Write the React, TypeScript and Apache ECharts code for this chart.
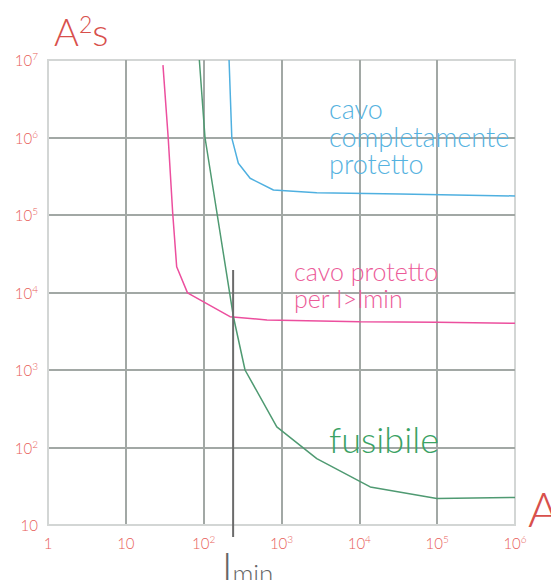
import React, { useEffect, useRef } from "react";
import * as echarts from "echarts";

// Data (x: current A, y: I²t A²s)
const pinkCurve: [number, number][] = [
  [30, 8.6e6], [35, 1.0e6], [40, 1.06e5], [45, 21500], [62, 9900],
  [218, 4870], [650, 4420], [10200, 4200], [100000, 4130], [1000000, 4000],
];
const blueCurve: [number, number][] = [
  [212, 1.0e7], [230, 9.8e5], [279, 4.65e5], [395, 2.98e5], [787, 2.1e5],
  [2840, 1.94e5], [33400, 1.87e5], [1000000, 1.76e5],
];
const greenCurve: [number, number][] = [
  [88, 1.0e7], [104, 1.0e6], [241, 4870], [340, 1000], [870, 185],
  [2840, 72], [13800, 31], [99000, 22], [1000000, 22.7],
];
const iminLine: [number, number][] = [[239, 19500], [239, 7]];

const labelRed = "#e8605a";

function supLabel(v: number): string {
  const e = Math.round(Math.log10(v));
  if (e === 0) return "1";
  if (e === 1) return "10";
  return "10{sup|" + e + "}";
}

export default function App() {
  const ref = useRef<HTMLDivElement>(null);
  useEffect(() => {
    if (!ref.current) return;
    const chart = echarts.init(ref.current, undefined, { renderer: "svg" });
    const rich = {
      sup: { fontSize: 10, verticalAlign: "top", lineHeight: 10, color: labelRed, fontFamily: "Lato", fontWeight: 300 },
    };
    chart.setOption({
      animation: false,
      textStyle: { fontFamily: "Lato" },
      grid: {
        left: 48, top: 60, right: 36, bottom: 55,
        show: true, borderColor: "#d3d6d5", borderWidth: 2,
      },
      xAxis: {
        type: "log", logBase: 10, min: 1, max: 1000000,
        axisLine: { show: true, lineStyle: { color: "#d3d6d5", width: 2 } },
        axisTick: { show: false },
        axisLabel: {
          margin: 9, color: labelRed, fontSize: 15, fontFamily: "Lato", fontWeight: 300,
          lineHeight: 18,
          formatter: (v: number) => supLabel(v),
          rich,
        },
        splitLine: { show: true, showMinLine: false, showMaxLine: false, lineStyle: { color: "#a2a8a5", width: 2 } },
      },
      yAxis: {
        type: "log", logBase: 10, min: 10, max: 10000000,
        axisLine: { show: true, lineStyle: { color: "#d3d6d5", width: 2 } },
        axisTick: { show: false },
        axisLabel: {
          margin: 10, color: labelRed, fontSize: 15, fontFamily: "Lato", fontWeight: 300,
          lineHeight: 18,
          formatter: (v: number) => supLabel(v),
          rich,
        },
        splitLine: { show: true, showMinLine: false, showMaxLine: false, lineStyle: { color: "#a2a8a5", width: 2 } },
      },
      series: [
        {
          type: "line", data: pinkCurve, symbol: "none",
          lineStyle: { color: "#ec4f9e", width: 1.5 }, z: 3,
        },
        {
          type: "line", data: blueCurve, symbol: "none",
          lineStyle: { color: "#4fb0e0", width: 1.5 }, z: 3,
        },
        {
          type: "line", data: greenCurve, symbol: "none",
          lineStyle: { color: "#4f9a72", width: 1.5 }, z: 3,
        },
        {
          type: "line", data: iminLine, symbol: "none", clip: false,
          lineStyle: { color: "#6b6b6b", width: 2 }, z: 4,
        },
      ],
      graphic: [
        {
          type: "text", left: 54, top: 12, z: 100,
          style: {
            text: "A{s2|2}s", fill: "#d8504c", font: "300 38px Lato",
            rich: { s2: { fontSize: 23, verticalAlign: "top", lineHeight: 20, fill: "#d8504c", fontFamily: "Lato", fontWeight: 300 } },
          },
        },
        {
          type: "text", left: 528, top: 484, z: 100,
          style: { text: "A", fill: "#d8504c", font: "300 48px Lato" },
        },
        {
          type: "text", left: 329, top: 95, z: 100,
          style: {
            text: "cavo\ncompletamente\nprotetto", fill: "#55b2e0",
            font: "300 27px Lato", lineHeight: 27.5,
          },
        },
        {
          type: "text", left: 294, top: 257, z: 100,
          style: {
            text: "cavo protetto\nper I>Imin", fill: "#ec5a98",
            font: "300 25px Lato", lineHeight: 27,
          },
        },
        {
          type: "text", left: 329, top: 421, z: 100,
          style: { text: "fusibile", fill: "#3aa264", font: "300 36px Lato" },
        },
        {
          type: "text", left: 222, top: 546, z: 100,
          style: {
            text: "I{m|min}", fill: "#666666", font: "300 40px Lato",
            rich: { m: { fontSize: 26, fontFamily: "Lato", fontWeight: 300, fill: "#666666", verticalAlign: "bottom" } },
          },
        },
      ],
    });
    return () => chart.dispose();
  }, []);
  return <div ref={ref} style={{ width: 551, height: 580, position: "absolute", left: 0, top: 0, background: "#fff" }} />;
}
